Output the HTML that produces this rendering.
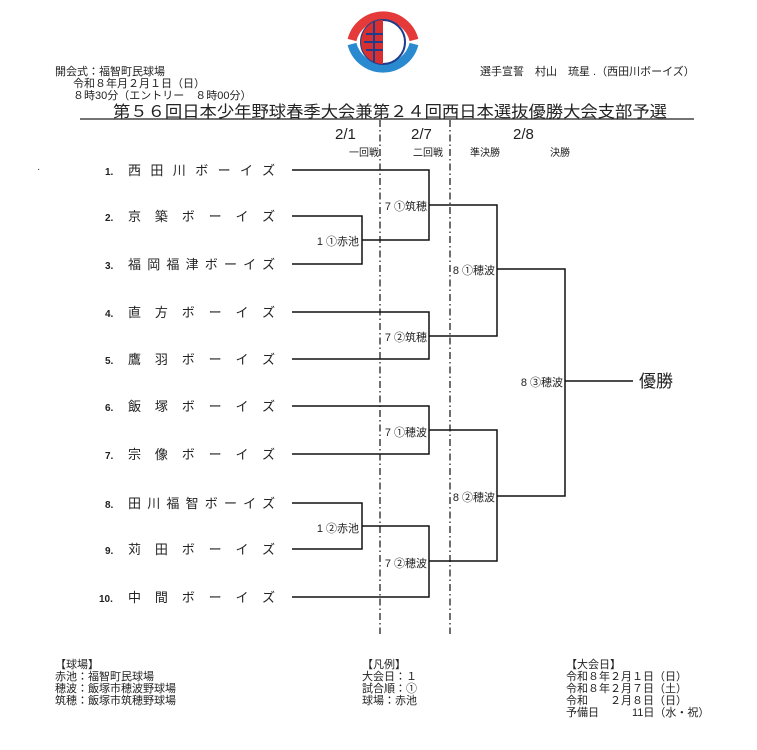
<!DOCTYPE html>
<html><head><meta charset="utf-8"><style>
html,body{margin:0;padding:0;background:#fff;width:757px;height:750px;overflow:hidden}
svg{display:block}
text{font-family:"Liberation Sans","Noto Sans CJK JP",sans-serif;fill:#222}
</style></head><body>
<svg width="757" height="750" viewBox="0 0 757 750">
<g>
<path d="M352,40 A32,32 0 0 1 414,40" fill="none" stroke="#e43a3a" stroke-width="9"/>
<path d="M352,44 A32,32 0 0 0 414,44" fill="none" stroke="#2a8ad0" stroke-width="9"/>
<circle cx="383" cy="42" r="22" fill="#fff" stroke="#1f3d8a" stroke-width="2"/>
<path d="M383,20 A22,22 0 0 0 383,64 Z" fill="#d83030"/>
<path d="M366,34 H383 M364,42 H383 M366,50 H383 M374,21 V63" stroke="#1f3d8a" stroke-width="2"/>
</g>
<g font-size="11">
<text x="55" y="75">開会式：福智町民球場</text>
<text x="73" y="87">令和８年月２月１日（日）</text>
<text x="73" y="99">８時30分（エントリー　８時00分）</text>
<text x="480" y="75">選手宣誓　村山　琉星 .（西田川ボーイズ）</text>
</g>
<text x="113" y="117" font-size="16" textLength="554" lengthAdjust="spacingAndGlyphs">第５６回日本少年野球春季大会兼第２４回西日本選抜優勝大会支部予選</text>
<line x1="80" y1="119" x2="694" y2="119" stroke="#222" stroke-width="1.3"/>
<g font-size="15" fill="#222"><text x="335" y="139">2/1</text><text x="411" y="139">2/7</text><text x="513" y="139">2/8</text></g>
<g font-size="10"><text x="349" y="156">一回戦</text><text x="413" y="156">二回戦</text><text x="470" y="156">準決勝</text><text x="550" y="156">決勝</text></g>
<g stroke="#222" stroke-width="1.3" stroke-dasharray="7,3,1.5,3">
<line x1="380" y1="120" x2="380" y2="634"/><line x1="450" y1="120" x2="450" y2="634"/>
</g>
<text x="37" y="172" font-size="10">·</text>
<g font-size="13">
<text x="105" y="175" font-size="10" font-weight="bold">1.</text><text x="128" y="175" textLength="147" lengthAdjust="spacing">西田川ボーイズ</text>
<text x="105" y="221" font-size="10" font-weight="bold">2.</text><text x="128" y="221" textLength="147" lengthAdjust="spacing">京築ボーイズ</text>
<text x="105" y="269" font-size="10" font-weight="bold">3.</text><text x="128" y="269" textLength="147" lengthAdjust="spacing">福岡福津ボーイズ</text>
<text x="105" y="317" font-size="10" font-weight="bold">4.</text><text x="128" y="317" textLength="147" lengthAdjust="spacing">直方ボーイズ</text>
<text x="105" y="364" font-size="10" font-weight="bold">5.</text><text x="128" y="364" textLength="147" lengthAdjust="spacing">鷹羽ボーイズ</text>
<text x="105" y="411" font-size="10" font-weight="bold">6.</text><text x="128" y="411" textLength="147" lengthAdjust="spacing">飯塚ボーイズ</text>
<text x="105" y="459" font-size="10" font-weight="bold">7.</text><text x="128" y="459" textLength="147" lengthAdjust="spacing">宗像ボーイズ</text>
<text x="105" y="508" font-size="10" font-weight="bold">8.</text><text x="128" y="508" textLength="147" lengthAdjust="spacing">田川福智ボーイズ</text>
<text x="105" y="554" font-size="10" font-weight="bold">9.</text><text x="128" y="554" textLength="147" lengthAdjust="spacing">苅田ボーイズ</text>
<text x="99" y="602" font-size="10" font-weight="bold">10.</text><text x="128" y="602" textLength="147" lengthAdjust="spacing">中間ボーイズ</text>
</g>
<g fill="none" stroke="#111" stroke-width="1.5">
<path d="M292,170 H429 V240 H362"/>
<path d="M292,216 H362 V264 H292"/>
<path d="M292,312 H429 V359 H292"/>
<path d="M429,205 H497 V336 H429"/>
<path d="M292,406 H429 V454 H292"/>
<path d="M292,503 H362 V549 H292"/>
<path d="M362,526 H429 V597 H292"/>
<path d="M429,430 H497 V561 H429"/>
<path d="M497,269 H565 V496 H497"/>
<path d="M565,381 H633"/>
</g>
<g font-size="11" text-anchor="end">
<text x="359" y="245">1 ①赤池</text>
<text x="427" y="210">7 ①筑穂</text>
<text x="427" y="341">7 ②筑穂</text>
<text x="495" y="274">8 ①穂波</text>
<text x="427" y="436">7 ①穂波</text>
<text x="359" y="532">1 ②赤池</text>
<text x="427" y="567">7 ②穂波</text>
<text x="495" y="501">8 ②穂波</text>
<text x="563" y="386">8 ③穂波</text>
</g>
<text x="639" y="387" font-size="17">優勝</text>
<g font-size="11">
<text x="55" y="668">【球場】</text>
<text x="55" y="680">赤池：福智町民球場</text>
<text x="55" y="692">穂波：飯塚市穂波野球場</text>
<text x="55" y="704">筑穂：飯塚市筑穂野球場</text>
<text x="362" y="668">【凡例】</text>
<text x="362" y="680">大会日：１</text>
<text x="362" y="692">試合順：①</text>
<text x="362" y="704">球場：赤池</text>
<text x="566" y="668">【大会日】</text>
<text x="566" y="680">令和８年２月１日（日）</text>
<text x="566" y="692">令和８年２月７日（土）</text>
<text x="566" y="704">令和　　２月８日（日）</text>
<text x="566" y="716">予備日　　　11日（水・祝）</text>
</g>
</svg>
</body></html>
